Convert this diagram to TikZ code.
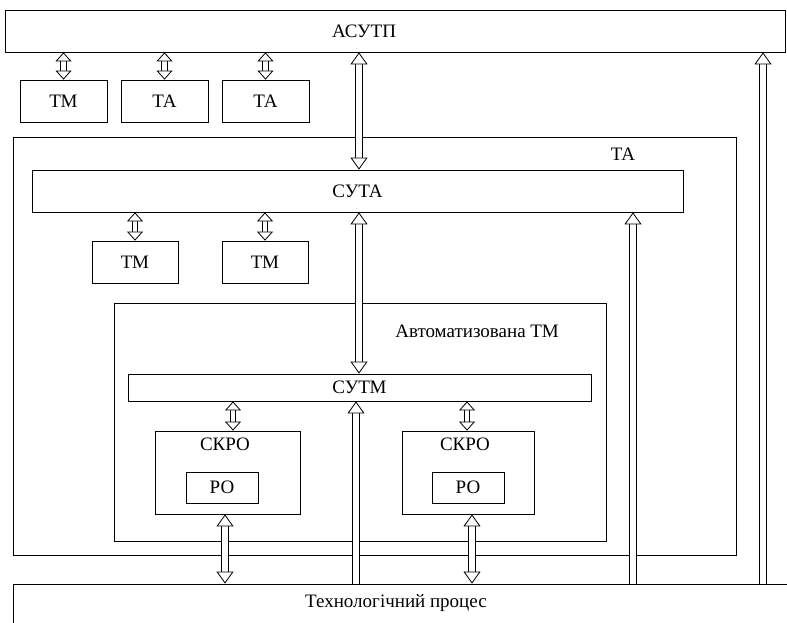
\documentclass[tikz,border=0pt]{standalone}
\usepackage{fontspec}
\setmainfont{Liberation Serif}
\usetikzlibrary{arrows.meta}

\begin{document}
\begin{tikzpicture}[x=1pt,y=-1pt,
  box/.style={draw,line width=0.8pt,inner sep=0pt,font=\fontsize{19}{22}\selectfont},
  txt/.style={inner sep=0pt,font=\fontsize{19}{22}\selectfont},
  small link/.style={double,double distance=4.6pt,line width=0.8pt,
    {Triangle[open,fill=white,line width=0.8pt,length=9pt,width=16pt]}-{Triangle[open,fill=white,line width=0.8pt,length=9pt,width=16pt]}},
  big link/.style={double,double distance=6.4pt,line width=0.8pt,
    {Triangle[open,fill=white,line width=0.8pt,length=12pt,width=17pt]}-{Triangle[open,fill=white,line width=0.8pt,length=12pt,width=17pt]}},
  up link/.style={double,double distance=6.4pt,line width=0.8pt,
    -{Triangle[open,fill=white,line width=0.8pt,length=12pt,width=17pt]}}]

  \useasboundingbox (0,0) rectangle (787,623);

  \node[box,minimum width=780pt,minimum height=42pt] (asutp) at (395,31) {};
  \node[txt] at (364,31) {АСУТП};

  \node[box,minimum width=87pt,minimum height=42pt] (tm1) at (63.5,101) {ТМ};
  \node[box,minimum width=87pt,minimum height=42pt] (ta1) at (164.5,101) {ТА};
  \node[box,minimum width=87pt,minimum height=42pt] (ta2) at (265.5,101) {ТА};

  \node[box,minimum width=723pt,minimum height=418pt] (ta) at (374.5,346) {};
  \node[txt] at (623,154) {ТА};

  \node[box,minimum width=651pt,minimum height=42pt] (suta) at (357.5,191) {СУТА};
  \node[box,minimum width=86pt,minimum height=42pt] (tm2) at (135,262) {ТМ};
  \node[box,minimum width=86pt,minimum height=42pt] (tm3) at (265,262) {ТМ};

  \node[box,minimum width=492pt,minimum height=238pt] (autm) at (360,422) {};
  \node[txt] at (477,331) {Автоматизована ТМ};

  \node[box,minimum width=463pt,minimum height=27pt] (sutm) at (359.5,387.5) {СУТМ};

  \node[box,minimum width=145pt,minimum height=83pt] (skro1) at (227.5,472.5) {};
  \node[txt] at (225,444) {СКРО};
  \node[box,minimum width=72pt,minimum height=31pt] (po1) at (222,487.5) {РО};
  \node[box,minimum width=132pt,minimum height=83pt] (skro2) at (468,472.5) {};
  \node[txt] at (465,444) {СКРО};
  \node[box,minimum width=72pt,minimum height=31pt] (po2) at (468,487.5) {РО};

  \node[box,minimum width=807pt,minimum height=76pt] (proc) at (416.5,622) {};
  \node[txt] at (396,603) {Технологічний процес};

  \coordinate (c1) at (359,0);
  \coordinate (c2) at (356,0);
  \coordinate (c3) at (633,0);
  \coordinate (c4) at (763,0);
  \coordinate (c5) at (233,0);
  \coordinate (c6) at (467,0);
  \coordinate (c7) at (225,0);
  \coordinate (c8) at (472,0);

  \path
   (tm1.north) edge[small link] (tm1.north |- asutp.south)
   (ta1.north) edge[small link] (ta1.north |- asutp.south)
   (ta2.north) edge[small link] (ta2.north |- asutp.south)
   (tm2.north) edge[small link] (tm2.north |- suta.south)
   (tm3.north) edge[small link] (tm3.north |- suta.south)
   (sutm.south -| c5) edge[small link] (skro1.north -| c5)
   (sutm.south -| c6) edge[small link] (skro2.north -| c6)
   (asutp.south -| c1) edge[big link] (suta.north -| c1)
   (suta.south -| c1) edge[big link] (sutm.north -| c1)
   (skro1.south -| c7) edge[big link] (proc.north -| c7)
   (skro2.south -| c8) edge[big link] (proc.north -| c8)
   (proc.north -| c2) edge[up link] (sutm.south -| c2)
   (proc.north -| c3) edge[up link] (suta.south -| c3)
   (proc.north -| c4) edge[up link] (asutp.south -| c4);
\end{tikzpicture}
\end{document}
